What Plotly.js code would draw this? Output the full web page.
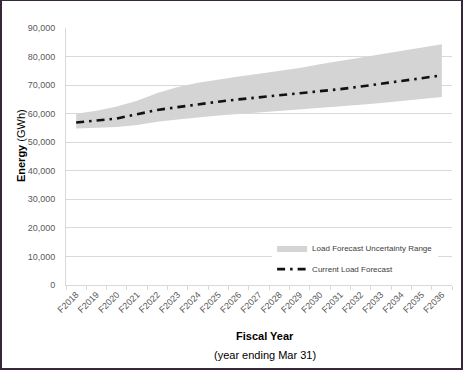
<!DOCTYPE html>
<html>
<head>
<meta charset="utf-8">
<script src="https://cdn.plot.ly/plotly-3.0.1.min.js"></script>
<style>
  html, body { margin: 0; padding: 0; background: #ffffff; }
  #wrap { position: relative; width: 463px; height: 370px; overflow: hidden; }
  #chart { position: absolute; left: 0; top: 0; width: 463px; height: 370px; }
  #frame { position: absolute; left: 0; top: 0; width: 463px; height: 370px; box-sizing: border-box;
           border: 2px solid #36283a; border-top-width: 1px; pointer-events: none; }
</style>
</head>
<body>
<div id="wrap">
  <div id="chart"></div>
  <div id="frame"></div>
</div>
<script>
const years = ["F2018","F2019","F2020","F2021","F2022","F2023","F2024","F2025","F2026","F2027",
               "F2028","F2029","F2030","F2031","F2032","F2033","F2034","F2035","F2036"];
const forecast = [56900, 57700, 58300, 59800, 61300, 62300, 63300, 64200, 65000, 65700,
                  66500, 67200, 67900, 68600, 69500, 70500, 71300, 72300, 73400];
const upperRange = [60000, 61000, 62500, 64500, 67200, 69300, 70800, 72000, 73000, 74000,
                    75000, 76000, 77300, 78500, 79700, 80800, 82000, 83200, 84300];
const lowerRange = [54800, 55000, 55300, 56000, 57200, 58000, 58800, 59400, 59900, 60400,
                    60900, 61400, 61900, 62500, 63100, 63700, 64400, 65100, 65800];
const yTicks = [0, 10000, 20000, 30000, 40000, 50000, 60000, 70000, 80000, 90000];
const yTickText = ["0","10,000","20,000","30,000","40,000","50,000","60,000","70,000","80,000","90,000"];

const FONT = "Liberation Sans, Arial, sans-serif";

const traces = [
  {
    x: years, y: lowerRange, type: "scatter", mode: "lines",
    line: {width: 0, color: "#d4d4d4"}, showlegend: false, hoverinfo: "skip",
    legendgroup: "a"
  },
  {
    x: years, y: upperRange, type: "scatter", mode: "lines",
    fill: "tonexty", fillcolor: "#d4d4d4",
    line: {width: 0, color: "#d4d4d4"},
    name: "Load Forecast Uncertainty Range", legendgroup: "a"
  },
  {
    x: years, y: forecast, type: "scatter", mode: "lines",
    line: {color: "#111111", width: 2.6, dash: "8px,5px,2.5px,5px"},
    name: "Current Load Forecast", legendgroup: "b"
  }
];

const layout = {
  width: 463, height: 370,
  margin: {l: 66, r: 11, t: 28, b: 85},
  paper_bgcolor: "#ffffff", plot_bgcolor: "#ffffff",
  font: {family: FONT, size: 9, color: "#595959"},
  showlegend: true,
  legend: {
    x: 0.534, y: 0.2, xanchor: "left", yanchor: "top",
    bgcolor: "#ffffff", borderwidth: 0,
    font: {family: FONT, size: 8, color: "#404040"},
    traceorder: "grouped", tracegroupgap: 2
  },
  xaxis: {
    type: "category", range: [-0.5, 18.5],
    showgrid: false, zeroline: false,
    showline: true, linecolor: "#d9d9d9", linewidth: 1,
    ticks: "outside", tickson: "boundaries", ticklen: 4, tickcolor: "#d9d9d9",
    tickangle: -45, tickfont: {family: FONT, size: 9, color: "#595959"}
  },
  yaxis: {
    range: [0, 90000], tickvals: yTicks, ticktext: yTickText,
    showgrid: true, gridcolor: "#d9d9d9", gridwidth: 1,
    zeroline: false, showline: true, linecolor: "#d9d9d9", linewidth: 1,
    ticks: "", ticklabelstandoff: 8,
    tickfont: {family: FONT, size: 9, color: "#595959"}
  },
  annotations: [
    {text: "<b>Energy</b> (GWh)", xref: "paper", yref: "paper", x: -0.115, y: 0.543,
     xanchor: "center", yanchor: "middle", textangle: -90, showarrow: false,
     font: {family: FONT, size: 11, color: "#000000"}},
    {text: "<b>Fiscal Year</b>", xref: "paper", yref: "paper", x: 0.5155, y: -0.199,
     xanchor: "center", yanchor: "middle", showarrow: false,
     font: {family: FONT, size: 11, color: "#000000"}},
    {text: "(year ending Mar 31)", xref: "paper", yref: "paper", x: 0.5155, y: -0.271,
     xanchor: "center", yanchor: "middle", showarrow: false,
     font: {family: FONT, size: 11, color: "#000000"}}
  ]
};

Plotly.newPlot("chart", traces, layout, {displayModeBar: false, staticPlot: true});
</script>
</body>
</html>
